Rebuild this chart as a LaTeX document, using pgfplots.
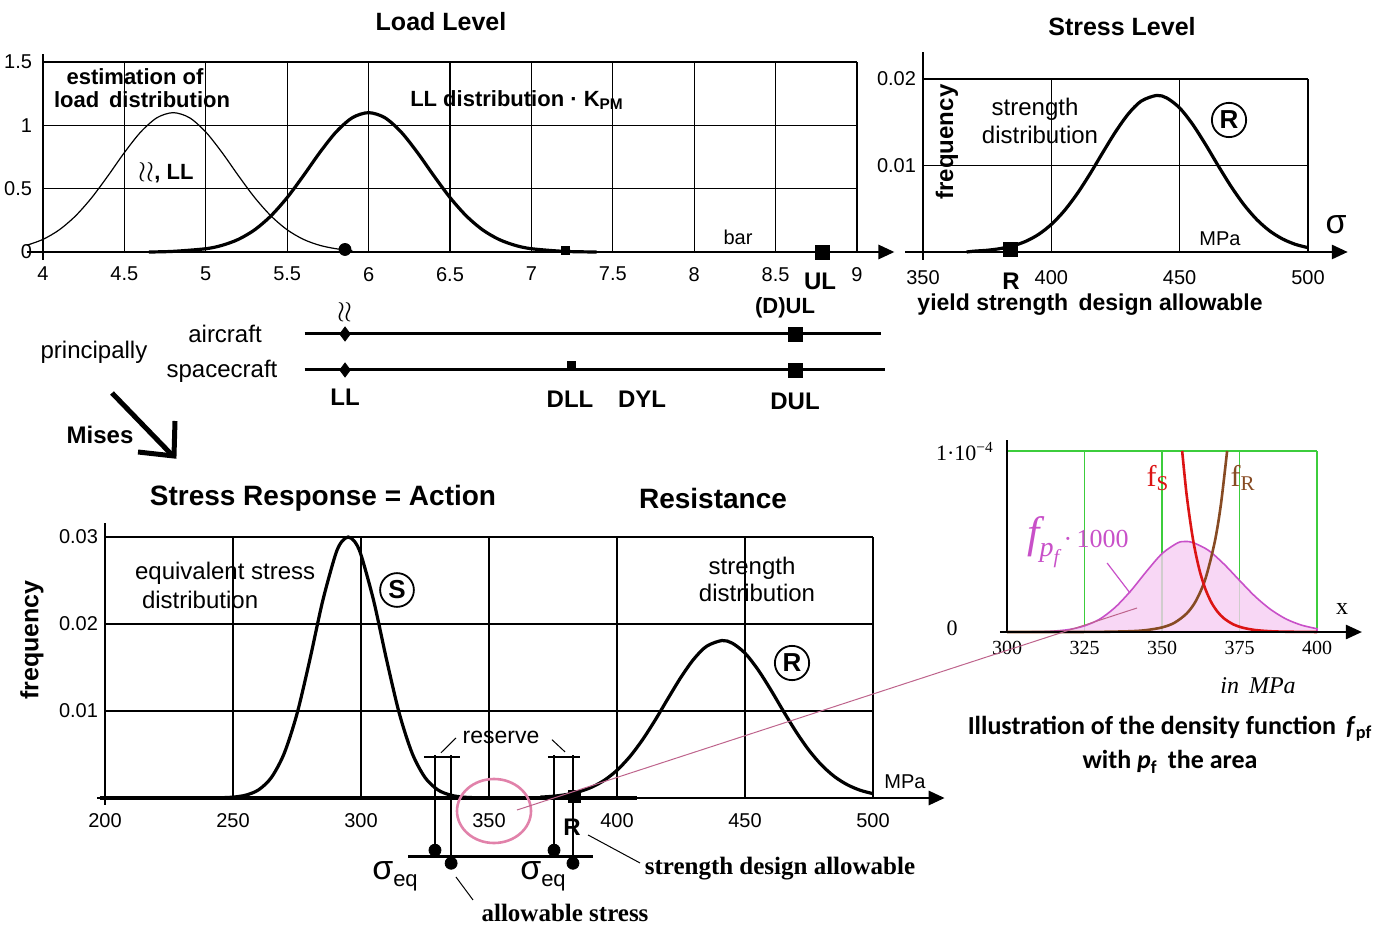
\documentclass[border=0pt]{standalone}
\usepackage{pgfplots}
\pgfplotsset{compat=1.18}
\usetikzlibrary{arrows.meta}
\usepackage{fontspec}
\setmainfont{Liberation Sans}
\newfontfamily\serif{Liberation Serif}
\newfontfamily\calib{Carlito}
\newcommand{\fs}[1]{\fontsize{#1}{#1}\selectfont}
\definecolor{gridg}{RGB}{60,205,60}
\definecolor{fsred}{RGB}{220,20,20}
\definecolor{frbrown}{RGB}{135,75,35}
\definecolor{fpmag}{RGB}{200,80,200}
\definecolor{fpfill}{RGB}{246,205,242}
\definecolor{pinkc}{RGB}{225,130,170}
\definecolor{conn}{RGB}{190,100,140}
\pgfplotsset{
  base/.style={scale only axis, clip=false, anchor=south west,
    axis line style={draw=none}, major tick length=0pt,
    grid=major, major grid style={black, line width=0.6pt},
    tick label style={font=\fs{10}},
    /pgf/number format/assume math mode=true, scaled ticks=false},
}
\tikzset{axarrow/.style={line width=1.4pt,-{Triangle[length=8pt,width=7pt]}}}
\begin{document}
\begin{tikzpicture}
\useasboundingbox (0,0) rectangle (695pt,463.5pt);

% ---------------- Load Level ----------------
\begin{axis}[base, at={(21.5pt,337.5pt)}, width=407pt, height=95pt,
  xmin=4, xmax=9, ymin=0, ymax=1.5,
  xtick={4,4.5,5,5.5,6,6.5,7,7.5,8,8.5,9},
  xticklabels={4,4.5,5,5.5,6,6.5,7,7.5,8,8.5,9},
  ytick={0,0.5,1,1.5}, yticklabels={0,0.5,1,1.5},
  xticklabel style={yshift=-4pt}, yticklabel style={xshift=-2pt}]
\draw[line width=1.2pt] (axis cs:4,-0.06) -- (axis cs:4,1.56);
\draw[axarrow] (axis cs:3.9,0) -- (axis cs:9.23,0);
\addplot[black, line width=0.6pt, smooth] coordinates {
(3.9,0.053)(4.0,0.0996)(4.1,0.175)(4.2,0.285)(4.3,0.430)(4.4,0.603)(4.5,0.785)
(4.6,0.947)(4.7,1.060)(4.8,1.10)(4.9,1.060)(5.0,0.947)(5.1,0.785)(5.2,0.603)
(5.3,0.430)(5.4,0.285)(5.5,0.175)(5.6,0.0996)(5.7,0.0526)(5.8,0.0258)(5.9,0.0117)};
\addplot[black, line width=1.6pt, smooth] coordinates {
(4.65,0)(4.8,0.005)(5.0,0.0258)(5.1,0.0526)(5.2,0.0996)(5.3,0.175)(5.4,0.285)
(5.5,0.430)(5.6,0.603)(5.7,0.785)(5.8,0.947)(5.9,1.060)(6.0,1.10)(6.1,1.060)
(6.2,0.947)(6.3,0.785)(6.4,0.603)(6.5,0.430)(6.6,0.285)(6.7,0.175)(6.8,0.0996)
(6.9,0.0526)(7.0,0.0258)(7.2,0.005)(7.4,0)};
\addplot[only marks, mark=*, mark size=3pt] coordinates {(5.855,0.02)};
\addplot[only marks, mark=square*, mark size=2pt] coordinates {(7.21,0.01)};
\addplot[only marks, mark=square*, mark size=3.5pt] coordinates {(8.785,0)};
\end{axis}

% ---------------- aircraft / spacecraft ----------------
\begin{axis}[scale only axis, anchor=south west, hide axis, clip=false,
  at={(21.5pt,278.5pt)}, width=407pt, height=18pt,
  xmin=4, xmax=9, ymin=0, ymax=1]
\addplot[black, line width=1.5pt] coordinates {(5.607,1)(9.147,1)};
\addplot[black, line width=1.5pt] coordinates {(5.607,0)(9.172,0)};
\addplot[only marks, mark=diamond*, mark size=3.5pt] coordinates {(5.855,1)(5.855,0)};
\addplot[only marks, mark=square*, mark size=3.5pt] coordinates {(8.619,1)(8.619,0)};
\addplot[only marks, mark=square*, mark size=2pt] coordinates {(7.243,0.12)};
\end{axis}

% ---------------- Stress Level ----------------
\begin{axis}[base, at={(461.5pt,337.5pt)}, width=192.5pt, height=86.5pt,
  xmin=350, xmax=500, ymin=0, ymax=0.02,
  xtick={350,400,450,500}, xticklabels={350,400,450,500},
  ytick={0,0.01,0.02}, yticklabels={,0.01,0.02},
  xticklabel style={yshift=-5.5pt}]
\draw[line width=1.2pt] (axis cs:350,-0.0009) -- (axis cs:350,0.0231);
\draw[axarrow] (axis cs:343,0) -- (axis cs:515.5,0);
\addplot[black, line width=1.6pt, smooth] coordinates {
(367,0)(370,0.0001)(375,0.0002)(380,0.00039)(385,0.00071)(390,0.00123)(395,0.00203)
(400,0.00319)(405,0.00475)(410,0.00671)(415,0.0090)(420,0.01148)(425,0.01389)
(430,0.01597)(435,0.01744)(441,0.0181)(445,0.0178)(450,0.01665)(455,0.01478)
(460,0.01247)(465,0.00998)(470,0.00759)(475,0.00548)(480,0.00376)(485,0.00245)
(490,0.00152)(495,0.00089)(500,0.0005)};
\addplot[only marks, mark=square*, mark size=3.5pt] coordinates {(384,0.0003)};
\end{axis}

% ---------------- Stress Response / Resistance ----------------
\begin{axis}[base, at={(52.5pt,64.5pt)}, width=384pt, height=130.5pt,
  xmin=200, xmax=500, ymin=0, ymax=0.03,
  xtick={200,250,300,350,400,450,500}, xticklabels={200,250,300,350,400,450,500},
  ytick={0,0.01,0.02,0.03}, yticklabels={,0.01,0.02,0.03},
  xticklabel style={yshift=-4pt}]
\draw[line width=1.2pt] (axis cs:200,-0.0008) -- (axis cs:200,0.0316);
\draw[axarrow] (axis cs:197,0) -- (axis cs:528,0);
\addplot[black, line width=2.2pt] coordinates {(198,0)(408,0)};
\addplot[black, line width=1.6pt, smooth] coordinates {
(245,0.00003)(250,0.0001)(255,0.00033)(260,0.00094)(265,0.00236)(270,0.00513)
(275,0.00968)(280,0.01588)(285,0.02261)(290,0.02795)(292.5,0.02948)(295,0.03)
(297.5,0.02948)(300,0.02795)(305,0.02261)(310,0.01588)(315,0.00968)(320,0.00513)
(325,0.00236)(330,0.00094)(335,0.00033)(340,0.0001)(345,0.00003)};
\addplot[black, line width=1.6pt, smooth] coordinates {
(370,0.0001)(375,0.0002)(380,0.00039)(385,0.00071)(390,0.00123)(395,0.00203)
(400,0.00319)(405,0.00475)(410,0.00671)(415,0.0090)(420,0.01148)(425,0.01389)
(430,0.01597)(435,0.01744)(441,0.0181)(445,0.0178)(450,0.01665)(455,0.01478)
(460,0.01247)(465,0.00998)(470,0.00759)(475,0.00548)(480,0.00376)(485,0.00245)
(490,0.00152)(495,0.00089)(500,0.0005)};
\addplot[only marks, mark=square*, mark size=3pt] coordinates {(383.2,0.0002)};
% reserve marks
\draw[line width=0.7pt] (axis cs:328.9,0.0049) -- (axis cs:328.9,-0.0060);
\draw[line width=0.7pt] (axis cs:335.2,0.0049) -- (axis cs:335.2,-0.0075);
\draw[line width=0.7pt] (axis cs:375.4,0.0049) -- (axis cs:375.4,-0.0060);
\draw[line width=0.7pt] (axis cs:382.8,0.0049) -- (axis cs:382.8,-0.0075);
\draw[line width=0.7pt] (axis cs:324.6,0.0047) -- (axis cs:338.7,0.0047);
\draw[line width=0.7pt] (axis cs:373,0.0047) -- (axis cs:385.5,0.0047);
\draw[line width=0.5pt] (axis cs:331.25,0.0052) -- (axis cs:337.1,0.0069);
\draw[line width=0.5pt] (axis cs:374.6,0.0067) -- (axis cs:379.7,0.0053);
\draw[line width=1.5pt] (axis cs:318.4,-0.00667) -- (axis cs:390.6,-0.00667);
\addplot[only marks, mark=*, mark size=3pt] coordinates {
(328.9,-0.0060)(335.2,-0.0075)(375.4,-0.0060)(382.8,-0.0075)};
\draw[line width=0.5pt] (axis cs:388.7,-0.00425) -- (axis cs:409,-0.00747);
\draw[line width=0.5pt] (axis cs:337.1,-0.00908) -- (axis cs:343.75,-0.01172);
\end{axis}

% ---------------- inset ----------------
\begin{axis}[base, at={(503.5pt,147.5pt)}, width=155pt, height=90.5pt,
  xmin=300, xmax=400, ymin=0, ymax=1,
  xtick={300,325,350,375,400}, xticklabels={300,325,350,375,400},
  ytick={0,1}, yticklabels={,},
  major grid style={gridg, line width=0.9pt},
  tick label style={font=\serif\fs{10}},
  xticklabel style={yshift=-1pt}]
\draw[line width=1pt] (axis cs:300,0) -- (axis cs:300,1.06);
\addplot[draw=fpmag, line width=0.8pt, fill=fpfill, fill opacity=0.8, smooth] coordinates {
(300,0)(310,0.0016)(315,0.005)(320,0.0138)(325,0.034)(330,0.072)(335,0.138)
(340,0.229)(345,0.335)(350,0.433)(355,0.492)(357.5,0.5)(360,0.494)(365,0.451)
(370,0.375)(375,0.285)(380,0.197)(385,0.125)(390,0.072)(395,0.038)(400,0.018)}
\closedcycle;
\addplot[frbrown, line width=1.3pt, smooth] coordinates {
(300,0)(320,0.0002)(330,0.0008)(340,0.0044)(345,0.0106)(350,0.0253)(354,0.051)
(358,0.103)(361,0.174)(364,0.294)(367,0.497)(369,0.705)(371,1.0)};
\addplot[fsred, line width=1.3pt, smooth] coordinates {
(356.5,1.0)(358,0.75)(360,0.511)(362,0.348)(364,0.237)(366,0.161)(368,0.110)
(370,0.075)(373,0.042)(376,0.024)(380,0.011)(385,0.0042)(390,0.0016)(400,0.0002)};
\draw[axarrow, line width=1.2pt] (axis cs:297.7,0) -- (axis cs:414.5,0);
\draw[fpmag, line width=0.6pt] (axis cs:332.3,0.381) -- (axis cs:339.7,0.215);
\end{axis}

% ---------------- annotations ----------------
\begin{scope}[x=0.5pt,y=-0.5pt,yshift=463.5pt]
\node[font=\bfseries\fs{12.5}] at (441,22) {Load Level};
\node[font=\bfseries\fs{12.5}] at (1122,27) {Stress Level};
\node[font=\bfseries\fs{11}] at (135,77) {estimation of};
\node[font=\bfseries\fs{11}] at (142,100) {load\, distribution};
\node[font=\bfseries\fs{11}] at (166,172) {{\fs{14}$\wr\wr$}, LL};
\node[font=\bfseries\fs{11}] at (517,100) {LL distribution · K\textsubscript{PM}};
\node[font=\fs{10}] at (738,237) {bar};
\node[font=\bfseries\fs{12}] at (820,281) {UL};
\node[font=\bfseries\fs{14}] at (345,312) {$\wr\wr$};
\node[font=\bfseries\fs{11}] at (785,308) {(D)UL};
\node[font=\fs{12}] at (225,334) {aircraft};
\node[font=\fs{12}] at (222,371) {spacecraft};
\node[font=\fs{12}] at (94,352) {principally};
\node[font=\bfseries\fs{12}] at (345,397) {LL};
\node[font=\bfseries\fs{12}] at (570,399) {DLL};
\node[font=\bfseries\fs{12}] at (642,399) {DYL};
\node[font=\bfseries\fs{12}] at (795,401) {DUL};
\node[font=\bfseries\fs{12}] at (100,435) {Mises};
\draw[line width=2.5pt] (112,393) -- (172,455);
\draw[line width=2.5pt] (138,452) -- (174,456) -- (175,421);
% Stress Level texts
\node[font=\bfseries\fs{12}, rotate=90] at (947,142) {frequency};
\node[font=\fs{12}] at (1035,109) {strength};
\node[font=\fs{12}] at (1040,135) {distribution};
\node[circle, draw, line width=0.9pt, inner sep=1.5pt, font=\bfseries\fs{13}] at (1229,120) {R};
\node[font=\fs{10}] at (1220,239) {MPa};
\node[font=\fs{17}] at (1336,225) {σ};
\node[font=\bfseries\fs{12}] at (1011,281) {R};
\node[font=\bfseries\fs{11.5}] at (1090,305) {yield strength\, design allowable};
% bottom texts
\node[font=\bfseries\fs{14}] at (323,498) {Stress Response = Action};
\node[font=\bfseries\fs{14}] at (713,498) {Resistance};
\node[font=\fs{12}, anchor=west] at (128,573) {equivalent stress};
\node[font=\fs{12}, anchor=west] at (135,600) {distribution};
\node[circle, draw, line width=0.9pt, inner sep=1.5pt, font=\bfseries\fs{13}] at (397,590) {S};
\node[circle, draw, line width=0.9pt, inner sep=1.5pt, font=\bfseries\fs{13}] at (792,663) {R};
\node[font=\fs{12}] at (752,568) {strength};
\node[font=\fs{12}] at (757,593) {distribution};
\node[font=\bfseries\fs{12.5}, rotate=90] at (32,640) {frequency};
\node[font=\fs{11.5}] at (501,737) {reserve};
\node[font=\fs{10}] at (905,782) {MPa};
\node[font=\bfseries\fs{12}] at (572,827) {R};
\node at (395,876) {\fs{17}σ\fs{11}\raisebox{-0.6ex}{eq}};
\node at (543,876) {\fs{17}σ\fs{11}\raisebox{-0.6ex}{eq}};
\node[font=\serif\bfseries\fs{12.5}] at (780,869) {strength design allowable};
\node[font=\serif\bfseries\fs{12.5}] at (565,913) {allowable stress};
\draw[pinkc, line width=1.3pt] (494,811) ellipse [x radius=18.5pt, y radius=16pt];
\draw[conn, line width=0.5pt] (517,810) -- (1137,608);
% inset texts
\node[font=\serif\fs{15}, text=fsred] at (1158,478) {f\textsubscript{S}};
\node[font=\serif\fs{15}, text=frbrown] at (1243,478) {f\textsubscript{R}};
\node[text=fpmag] at (1078,542) {{\serif\itshape\fs{22}f}{\serif\itshape\fs{14}\raisebox{-0.7ex}{p}\raisebox{-1.3ex}{\fs{10}f}}{\serif\fs{13}\,·\,1000}};
\node[font=\serif\fs{12}] at (1342,609) {x};
\node[font=\serif\itshape\fs{12}] at (1258,686) {in\, MPa};
\node[font=\serif\fs{11}] at (952,628) {0};
\node[font=\serif\fs{11}] at (965,452) {1·10\textsuperscript{−4}};
\node[font=\calib\bfseries\fs{13}] at (1170,729) {Illustration of the density function\, \textit{f}\textsubscript{pf}};
\node[font=\calib\bfseries\fs{13}] at (1170,762) {with \textit{p}\textsubscript{f}\, the area};
\end{scope}
\end{tikzpicture}
\end{document}
